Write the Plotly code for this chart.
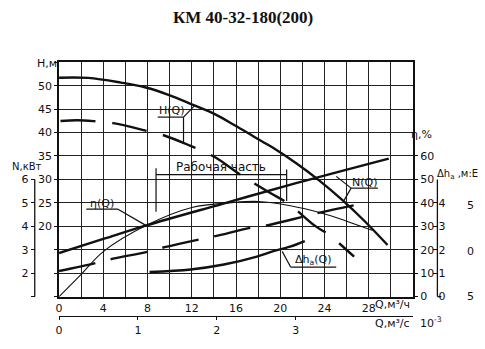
import plotly.graph_objects as go

# ---------------- data ----------------
# Head curve, larger impeller (solid)
q_h_big = [0, 2.64, 5.60, 7.84, 9.95, 12.05, 14.12, 15.91, 17.70, 19.23, 21.47, 23.56, 25.59, 27.65, 29.69]
h_big = [51.70, 51.66, 50.65, 49.61, 48.00, 45.97, 43.88, 41.50, 39.01, 36.90, 33.40, 29.70, 25.63, 21.03, 16.01]

# Head curve, smaller impeller (dashed)
q_h_small = [0.13, 1.66, 3.27, 4.89, 7.84, 9.37, 11.70, 14.03, 16.36, 19.05, 20.75, 23.08, 24.43, 26.67]
h_small = [42.46, 42.63, 42.40, 42.00, 40.41, 39.49, 37.34, 34.83, 31.07, 27.16, 24.80, 20.20, 18.11, 13.51]

# Power, larger impeller (solid) and smaller impeller (dashed), kW
q_n_big = [0, 4.0, 7.9, 14.7, 21.5, 29.8]
n_big = [2.86, 3.46, 4.04, 4.95, 5.85, 6.89]
q_n_small = [0, 3.36, 4.88, 8.02, 9.55, 12.68, 14.12, 17.25, 18.78, 21.91, 23.44, 26.67]
n_small = [2.09, 2.44, 2.62, 2.92, 3.11, 3.44, 3.58, 3.93, 4.04, 4.39, 4.57, 4.90]

# Efficiency, %
q_eta = [0, 2.0, 4.0, 7.9, 12.0, 15.6, 18.0, 20.9, 23.7, 26.0, 28.3]
eta = [0, 9.5, 19.2, 30.4, 38.0, 40.1, 40.6, 38.8, 35.7, 32.2, 28.3]

# NPSH, m
q_dh = [8.18, 11.9, 14.9, 17.88, 19.23, 20.87, 22.21]
dh = [1.05, 1.16, 1.37, 1.71, 1.92, 2.13, 2.37]

# tick labels
q_ticks = list(range(0, 33, 2))
h_ticks = list(range(5, 56, 5))
n_ticks = [1, 2, 3, 4, 5, 6]
eta_ticks = [0, 10, 20, 30, 40, 50, 60]
dh_ticks = [0, 1, 2, 3, 4]
ls_vals = [0, 7.13, 14.26, 21.39]
ls_text = ["0", "1", "2", "3"]

# ---------------- layout helpers ----------------
W, HPX = 485, 349
X0, X1 = 55.5, 412.5
YT, YB = 63.5, 302.7
INK = "#111111"
FONT = "DejaVu Sans"


def P(x, y):
    return x / W, 1 - y / HPX


fig = go.Figure()
line_thick = dict(color=INK, width=2.4, shape="spline", smoothing=1.0)

fig.add_trace(go.Scatter(x=q_h_big, y=h_big, mode="lines", line=line_thick, yaxis="y"))
fig.add_trace(go.Scatter(x=q_h_small, y=h_small, mode="lines",
                         line=dict(line_thick, dash="35px,17px"), yaxis="y"))
fig.add_trace(go.Scatter(x=q_n_big, y=n_big, mode="lines", line=line_thick, yaxis="y2"))
fig.add_trace(go.Scatter(x=q_n_small, y=n_small, mode="lines",
                         line=dict(line_thick, dash="37px,16px"), yaxis="y2"))
fig.add_trace(go.Scatter(x=q_eta, y=eta, mode="lines",
                         line=dict(color=INK, width=1.1, shape="spline", smoothing=1.0), yaxis="y3"))
fig.add_trace(go.Scatter(x=q_dh, y=dh, mode="lines", line=line_thick, yaxis="y4"))
fig.add_trace(go.Scatter(x=[0], y=[5], mode="markers", marker=dict(opacity=0),
                         xaxis="x2", yaxis="y", hoverinfo="skip"))

tf = dict(family=FONT, size=11, color=INK)

fig.update_layout(
    width=W, height=HPX, autosize=False,
    margin=dict(l=0, r=0, t=0, b=0),
    paper_bgcolor="white", plot_bgcolor="white",
    showlegend=False,
    xaxis=dict(domain=[X0 / W, X1 / W], range=[0, 32], anchor="y",
               tickvals=q_ticks,
               ticktext=[str(v) if (v % 4 == 0 and v <= 28) else "" for v in q_ticks],
               ticks="", showgrid=True, gridcolor="#222", gridwidth=1.1,
               showline=True, mirror=True, linecolor=INK, linewidth=1.6,
               zeroline=False, tickfont=tf),
    xaxis2=dict(overlaying="x", anchor="free", position=1 - 322.7 / HPX, side="bottom",
                range=[0, 32], tickvals=ls_vals, ticktext=ls_text,
                ticks="outside", ticklen=3, tickcolor=INK, tickwidth=1.2,
                showline=True, linecolor=INK, linewidth=1.3,
                showgrid=False, zeroline=False, tickfont=tf),
    yaxis=dict(domain=[1 - YB / HPX, 1 - YT / HPX], range=[5, 55], anchor="x",
               tickvals=h_ticks,
               ticktext=[str(v) if 20 <= v <= 50 else "" for v in h_ticks],
               ticks="outside", ticklen=3, tickcolor=INK,
               showgrid=True, gridcolor="#222", gridwidth=1.1,
               showline=True, mirror=True, linecolor=INK, linewidth=1.6,
               zeroline=False, tickfont=tf),
    yaxis2=dict(overlaying="y", anchor="free", position=31 / W, side="left",
                range=[1, 11], tickvals=n_ticks,
                ticktext=["" if v == 1 else str(v) for v in n_ticks],
                ticks="outside", ticklen=4, tickcolor=INK, tickwidth=1.2,
                showgrid=False, showline=False, zeroline=False, tickfont=tf),
    yaxis3=dict(overlaying="y", anchor="x", side="right",
                range=[0, 100], tickvals=eta_ticks,
                ticks="outside", ticklen=4, tickcolor=INK, tickwidth=1.2,
                showgrid=False, showline=False, zeroline=False, tickfont=tf),
    yaxis4=dict(overlaying="y", anchor="free", position=437 / W, side="right",
                range=[0, 10], tickvals=dh_ticks,
                ticks="inside", ticklen=4, tickcolor=INK, tickwidth=1.2,
                showgrid=False, showline=False, zeroline=False, tickfont=tf),
)

shapes = []


def seg(x1, y1, x2, y2, w=1.2):
    a, b = P(x1, y1)
    c, d = P(x2, y2)
    shapes.append(dict(type="line", xref="paper", yref="paper", x0=a, y0=b, x1=c, y1=d,
                       line=dict(color=INK, width=w)))


# N axis line and Δh axis line
shapes.append(dict(type="line", xref="paper", yref="y2", x0=31 / W, x1=31 / W, y0=1, y1=6,
                   line=dict(color=INK, width=1.3)))
shapes.append(dict(type="line", xref="paper", yref="y4", x0=437 / W, x1=437 / W, y0=0, y1=5,
                   line=dict(color=INK, width=1.3)))
seg(437, 302.7, 441, 302.7, 1.3)

# label leaders / underlines
seg(155, 119.5, 181, 119.5)
seg(181, 119.5, 192, 108)
seg(181, 119.5, 181, 146)
seg(83, 213.5, 115, 213.5)
seg(115, 213.5, 143, 230)
seg(350, 192, 377, 192)
seg(350, 192, 335, 180)
seg(350, 192, 342, 206)
seg(289, 272.5, 335, 272.5)
seg(289, 272.5, 280.5, 256.5)
# working range bracket
seg(153.3, 178.3, 285, 178.3)
seg(153.3, 171.7, 153.3, 216)
seg(285, 173, 285, 205)
fig.update_layout(shapes=shapes)

ann = []


def txt(s, x, y, size=11, xanchor="center", family=FONT, **kw):
    a, b = P(x, y)
    ann.append(dict(text=s, x=a, y=b, xref="paper", yref="paper", showarrow=False,
                    xanchor=xanchor, yanchor="middle",
                    font=dict(family=family, size=size, color=INK), **kw))


txt("<b>КМ 40-32-180(200)</b>", 241, 17.5, size=17, family="Liberation Serif")
txt("H,м", 43, 65)
txt("N,кВт", 23, 169.5, size=10)
txt("η,%", 421, 137.5)
txt("Δh<sub>a</sub> ,м:Е", 457, 178, size=10)
txt("Q,м³/ч", 411, 311, xanchor="right")
txt("Q,м³/с", 411, 330, xanchor="right")
txt("10<sup>-3</sup>", 417, 329, xanchor="left")
txt("5", 470, 210)
txt("0", 470, 256.5)
txt("5", 470, 302.5)
txt("H(Q)", 169, 113)
txt("η(Q)", 99, 208)
txt("N(Q)", 364, 186)
txt("Δh<sub>a</sub>(Q)", 312, 265)
txt("Рабочая часть", 219, 170.5, size=12)
fig.update_layout(annotations=ann)

fig.write_html("out.html")
